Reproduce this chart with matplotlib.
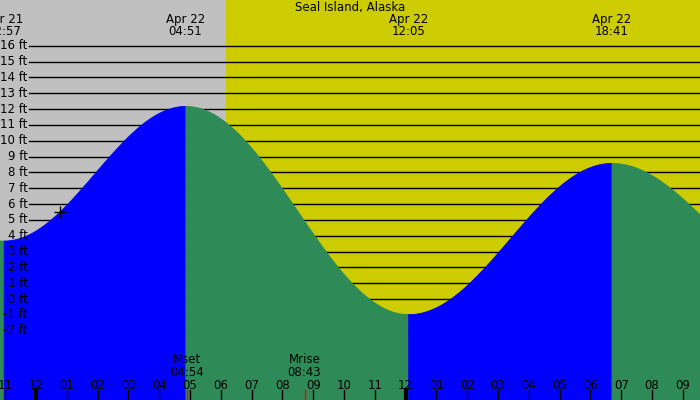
import numpy as np
import matplotlib.pyplot as plt
import matplotlib.transforms as mtrans

# tide extremes, hours relative to Apr 22 00:00
ext_t = [-7.0, -1.05, 4.85, 12.083, 18.683, 25.0]
ext_h = [9.0, 3.7, 12.2, -0.95, 8.6, 1.0]
top_labels = ["Apr 21\n22:57", "Apr 22\n04:51", "Apr 22\n12:05", "Apr 22\n18:41"]
sunrise = 6.17
moon_t = [4.9, 8.717]
moon_labels = ["Mset\n04:54", "Mrise\n08:43"]
hour_ticks = list(range(-1, 22))
hour_labels = ["%02d" % ((h - 1) % 12 + 1) for h in hour_ticks]
ft_levels = list(range(-2, 17))

x0, x1 = -1.17, -1.17 + 700 / 30.8

fig = plt.figure(figsize=(7, 4), dpi=100)
ax = fig.add_axes([0, 0, 1, 1])
ax.set_xlim(x0, x1)
ax.set_ylim(-6.37, 18.89)
ax.axis("off")

ax.axvspan(x0, sunrise, color="#c0c0c0", zorder=0)
ax.axvspan(sunrise, x1, color="#cccc00", zorder=0)

for lv in ft_levels:
    ax.plot([x0 + 0.95, x1], [lv, lv], color="black", lw=1, zorder=1)
    ax.text(x0 + 0.9, lv, "%d ft" % lv, ha="right", va="center", fontsize=8.5, zorder=4)

# cosine shape between each pair of extremes, one fill per segment
for i in range(len(ext_t) - 1):
    t = np.linspace(ext_t[i], ext_t[i + 1], 300)
    f = (t - ext_t[i]) / (ext_t[i + 1] - ext_t[i])
    h = ext_h[i] + (ext_h[i + 1] - ext_h[i]) * (1 - np.cos(np.pi * f)) / 2
    col = "#0000ff" if ext_h[i + 1] > ext_h[i] else "#2e8b57"
    ax.fill_between(t, h, -7, color=col, lw=0.6, edgecolor=col, zorder=2)

ax.plot(0.78, 5.5, marker="+", color="black", ms=8, zorder=5)

for tt, lab in zip(ext_t[1:5], top_labels):
    ax.text(tt, 18.1, lab, ha="center", va="top", fontsize=8.5, linespacing=0.95, zorder=5)
ax.text((x0 + x1) / 2, 18.85, "Seal Island, Alaska", ha="center", va="top", fontsize=8.5, zorder=5)

tr = mtrans.blended_transform_factory(ax.transData, ax.transAxes)
for hh, lab in zip(hour_ticks, hour_labels):
    lw = 3 if hh % 12 == 0 else 1
    ax.plot([hh, hh], [0, 0.025], color="black", lw=lw, transform=tr, zorder=5)
    ax.text(hh, 0.037, lab, ha="center", va="center", fontsize=8.5, transform=tr, zorder=5)
for tt, lab in zip(moon_t, moon_labels):
    ax.plot([tt, tt], [0, 0.025], color="red", lw=1, transform=tr, zorder=5)
    ax.text(tt, 0.085, lab, ha="center", va="center", fontsize=8.5, linespacing=0.95, transform=tr, zorder=5)

fig.savefig("out.png", dpi=100)
